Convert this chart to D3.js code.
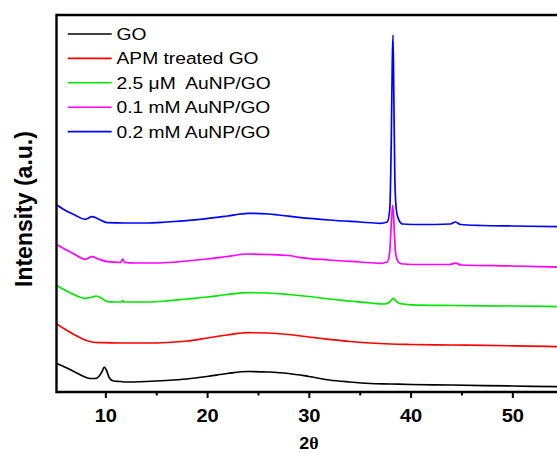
<!DOCTYPE html>
<html>
<head>
<meta charset="utf-8">
<script src="https://cdn.jsdelivr.net/npm/d3@7"></script>
<style>
  html, body { margin: 0; padding: 0; background: #fff; }
  svg { display: block; }
  text { font-family: "Liberation Sans", Arial, sans-serif; fill: #000; white-space: pre; }
</style>
</head>
<body>
<svg id="chart" width="557" height="453"></svg>
<script>
// XRD patterns (2θ in degrees, intensity in arbitrary units, curves offset vertically)
const seriesNames = ["GO", "APM treated GO", "2.5 \u03bcM  AuNP/GO", "0.1 mM AuNP/GO", "0.2 mM AuNP/GO"];
const seriesColors = ["#000000", "#ff0000", "#00e600", "#ff00ff", "#0000ff"];

const goTheta = [5, 6, 7, 8, 8.5, 9, 9.4, 9.7, 9.9, 10.1, 10.4, 10.8, 11.5, 12, 14, 16, 18, 20, 22, 24, 26, 28, 30, 32, 34, 36, 38, 40, 44, 50, 55];
const goI     = [29.5, 25, 20, 15, 13.5, 13.5, 16, 21, 25, 22, 14, 11, 10.5, 10, 10.5, 11.5, 13, 15.5, 18.5, 20.5, 20, 18.5, 15.5, 12, 10, 8.5, 8, 7.5, 7, 6, 5.3];

const apmTheta = [5, 6, 7, 8, 9, 10, 12, 14, 16, 18, 20, 22, 24, 26, 28, 30, 32, 34, 36, 38, 40, 44, 50, 55];
const apmI     = [69.5, 63, 57, 52, 49.5, 49.3, 49, 49, 49.5, 51, 54, 57, 59.3, 59, 57.5, 55, 52.7, 50.5, 49, 48, 47.5, 47, 46.2, 45.3];

const au25Theta = [5, 6, 7, 8, 8.6, 9.1, 9.6, 10.2, 11, 11.6, 11.7, 11.8, 12, 14, 16, 18, 20, 22, 24, 26, 28, 30, 32, 34, 36, 37.4, 37.9, 38.15, 38.3, 38.5, 38.8, 39.3, 40, 44, 50, 55];
const au25I     = [108, 102, 97, 93.7, 94.5, 96, 94, 90.3, 90, 90, 91.5, 90, 90, 90, 91, 93, 95, 97.5, 99.3, 99, 97.5, 95.5, 93, 91, 89, 88, 89.5, 92.5, 93.7, 91.5, 89, 88, 87.2, 86.5, 86, 85.3];

const au01Theta = [5, 6, 7, 8, 8.7, 9.3, 10.2, 11.5, 11.7, 11.9, 13, 15, 18, 20, 22, 24, 26, 28, 29, 32, 35, 37, 37.7, 37.95, 38.1, 38.25, 38.38, 38.5, 38.65, 38.9, 39.3, 41, 43.8, 44.4, 45, 50, 55];
const au01I     = [148.7, 143, 137.5, 132.7, 135.3, 133, 130.3, 129.5, 133, 129.5, 129, 129, 131, 133, 135.5, 138, 137.5, 136.5, 134.7, 132, 130, 128.7, 130, 140, 168, 187, 165, 142, 133, 129, 128, 127.5, 127.5, 128.8, 127, 126, 124.7];

const au02Theta = [5, 6, 7, 8, 8.7, 9.3, 10.2, 12, 14, 16, 19.3, 22, 24, 26, 27, 29, 32, 35, 37, 37.7, 37.95, 38.1, 38.2, 38.27, 38.35, 38.45, 38.6, 38.85, 39.2, 41, 43.9, 44.4, 44.9, 47, 50, 55];
const au02I     = [188.7, 182, 177, 172.7, 175.3, 173, 169.3, 169, 169, 170, 172.7, 176, 178.7, 178, 177, 174.7, 172, 170, 168.7, 170, 182, 250, 330, 357, 300, 215, 182, 172, 168, 167.5, 168, 170, 167.5, 166.5, 166, 165.3];

const thetaList = [goTheta, apmTheta, au25Theta, au01Theta, au02Theta];
const intensityList = [goI, apmI, au25I, au01I, au02I];

const xTicks = [10, 20, 30, 40, 50];
const xMinorTicks = [15, 25, 35, 45, 55];

const svg = d3.select("#chart");
const plotLeft = 56.5, plotTop = 15, plotBottom = 392;

const x = d3.scaleLinear().domain([5.2, 55]).range([plotLeft, plotLeft + 49.8 * 10.175]);
const y = d3.scaleLinear().domain([0, 377]).range([plotBottom, plotTop]);

// clip region for the data curves
svg.append("clipPath").attr("id", "plotClip")
  .append("rect").attr("x", plotLeft).attr("y", plotTop).attr("width", 600).attr("height", plotBottom - plotTop);

const line = d3.line().x(d => x(d[0])).y(d => y(d[1])).curve(d3.curveMonotoneX);

const curves = svg.append("g").attr("clip-path", "url(#plotClip)");
thetaList.forEach((th, i) => {
  const pts = th.map((t, j) => [t, intensityList[i][j]]);
  curves.append("path")
    .datum(pts)
    .attr("d", line)
    .attr("fill", "none")
    .attr("stroke", seriesColors[i])
    .attr("stroke-width", 1.7)
    .attr("stroke-linejoin", "round");
});

// bottom axis with major and minor ticks
const xAxis = d3.axisBottom(x).tickValues(xTicks).tickSize(6).tickPadding(6).tickFormat(d3.format("d"));
const gx = svg.append("g").attr("transform", `translate(0,${plotBottom})`).call(xAxis);
gx.select(".domain").remove();
gx.selectAll(".tick line").attr("stroke", "#000").attr("stroke-width", 2);
gx.selectAll(".tick text")
  .attr("y", 0).attr("dy", null)
  .attr("font-size", 18.6).attr("font-weight", "bold")
  .attr("transform", "translate(0,29.7) scale(1.08,1)");

const gxm = svg.append("g").attr("transform", `translate(0,${plotBottom})`)
  .call(d3.axisBottom(x).tickValues(xMinorTicks).tickSize(3.5).tickFormat(""));
gxm.select(".domain").remove();
gxm.selectAll(".tick line").attr("stroke", "#000").attr("stroke-width", 2);

// frame: left, top and bottom edges
svg.append("line").attr("x1", plotLeft).attr("x2", 557).attr("y1", plotBottom).attr("y2", plotBottom)
  .attr("stroke", "#000").attr("stroke-width", 2.4);
svg.append("line").attr("x1", plotLeft).attr("x2", 557).attr("y1", plotTop).attr("y2", plotTop)
  .attr("stroke", "#000").attr("stroke-width", 2.6);
svg.append("line").attr("x1", plotLeft).attr("x2", plotLeft).attr("y1", plotTop - 1.3).attr("y2", plotBottom + 1.2)
  .attr("stroke", "#000").attr("stroke-width", 2.4);

// axis titles
const xTitle = svg.append("text")
  .attr("transform", `translate(${x(30)},449) scale(1.12,1)`)
  .attr("text-anchor", "middle")
  .attr("font-size", 16).attr("font-weight", "bold");
xTitle.append("tspan").text("2");
xTitle.append("tspan").attr("font-family", "'Liberation Serif', 'DejaVu Serif', serif").text("\u03b8");

svg.append("text")
  .attr("transform", "translate(31.5,287) rotate(-90)")
  .attr("text-anchor", "start")
  .attr("font-size", 23).attr("font-weight", "bold")
  .text("Intensity (a.u.)");

// legend
const legend = svg.append("g");
seriesNames.forEach((name, i) => {
  const cy = 34 + i * 24.4;
  legend.append("line")
    .attr("x1", 67.7).attr("x2", 111.7).attr("y1", cy).attr("y2", cy)
    .attr("stroke", seriesColors[i]).attr("stroke-width", 1.6);
  legend.append("text")
    .attr("transform", `translate(116.5,${cy + 5.9}) scale(1.18,1)`)
    .attr("font-size", 16.3)
    .text(name);
});
</script>
</body>
</html>
